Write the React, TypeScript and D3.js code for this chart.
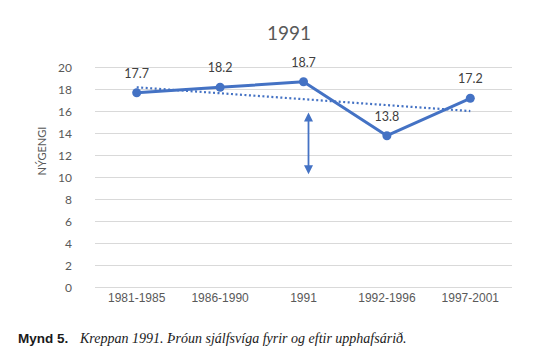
import React, { useEffect, useRef } from 'react';
import * as d3 from 'd3';

const categories = ['1981-1985', '1986-1990', '1991', '1992-1996', '1997-2001'];
const values = [17.7, 18.2, 18.7, 13.8, 17.2];
const yTicks = [0, 2, 4, 6, 8, 10, 12, 14, 16, 18, 20];
// double arrow marking the drop after 1991
const arrowCategory = '1991';
const arrowRange = [15.9, 10.3];

const blue = '#4472C4';

const App = () => {
    const chartRef = useRef<SVGSVGElement>(null);

    useEffect(() => {
        const svg = d3.select(chartRef.current);
        svg.selectAll('*').remove();

        const xScale = d3.scaleBand().domain(categories).range([95, 512]);
        const yScale = d3.scaleLinear().domain([0, 20]).range([287.5, 67.5]);
        const cx = (c: string) => (xScale(c) as number) + xScale.bandwidth() / 2;

        // title
        svg.append('text')
            .attr('x', 289)
            .attr('y', 40)
            .attr('text-anchor', 'middle')
            .attr('font-family', 'Lato, sans-serif')
            .attr('font-size', 19)
            .attr('fill', '#595959')
            .text('1991');

        // gridlines
        svg.append('g')
            .selectAll('line')
            .data(yTicks)
            .enter()
            .append('line')
            .attr('x1', 95)
            .attr('x2', 512)
            .attr('y1', d => yScale(d))
            .attr('y2', d => yScale(d))
            .attr('stroke', '#d9d9d9')
            .attr('stroke-width', 1);

        // y axis labels
        svg.append('g')
            .selectAll('text')
            .data(yTicks)
            .enter()
            .append('text')
            .attr('x', 72)
            .attr('y', d => yScale(d) + 4)
            .attr('text-anchor', 'end')
            .attr('font-family', 'Lato, sans-serif')
            .attr('font-size', 12)
            .attr('fill', '#595959')
            .text(d => d);

        svg.append('text')
            .attr('transform', 'translate(46,151) rotate(-90)')
            .attr('text-anchor', 'middle')
            .attr('font-family', 'Lato, sans-serif')
            .attr('font-size', 11)
            .attr('fill', '#595959')
            .text('NÝGENGI');

        // x axis labels
        svg.append('g')
            .selectAll('text')
            .data(categories)
            .enter()
            .append('text')
            .attr('x', d => cx(d))
            .attr('y', 302)
            .attr('text-anchor', 'middle')
            .attr('font-family', 'Liberation Sans, sans-serif')
            .attr('font-size', 12)
            .attr('fill', '#595959')
            .text(d => d);

        // linear trendline
        const xs = values.map((_, i) => i + 1);
        const mx = d3.mean(xs) as number;
        const my = d3.mean(values) as number;
        const slope = d3.sum(xs, (x, i) => (x - mx) * (values[i] - my)) / d3.sum(xs, x => (x - mx) ** 2);
        const trend = (i: number) => my + slope * (i + 1 - mx);
        svg.append('line')
            .attr('x1', cx(categories[0]))
            .attr('y1', yScale(trend(0)))
            .attr('x2', cx(categories[categories.length - 1]))
            .attr('y2', yScale(trend(categories.length - 1)))
            .attr('stroke', blue)
            .attr('stroke-width', 2.2)
            .attr('stroke-dasharray', '2,2.5');

        // main line
        const lineGenerator = d3.line<number>()
            .x((_, i) => cx(categories[i]))
            .y(d => yScale(d));
        svg.append('path')
            .datum(values)
            .attr('fill', 'none')
            .attr('stroke', blue)
            .attr('stroke-width', 3)
            .attr('stroke-linejoin', 'round')
            .attr('d', lineGenerator);

        svg.append('g')
            .selectAll('circle')
            .data(values)
            .enter()
            .append('circle')
            .attr('cx', (_, i) => cx(categories[i]))
            .attr('cy', d => yScale(d))
            .attr('r', 4.5)
            .attr('fill', blue);

        // data labels
        svg.append('g')
            .selectAll('text')
            .data(values)
            .enter()
            .append('text')
            .attr('x', (_, i) => cx(categories[i]))
            .attr('y', d => yScale(d) - 15)
            .attr('text-anchor', 'middle')
            .attr('font-family', 'Lato, sans-serif')
            .attr('font-size', 12.5)
            .attr('fill', '#404040')
            .text(d => d.toFixed(1));

        // double arrow
        const ax = cx(arrowCategory) + 5;
        const yTop = yScale(arrowRange[0]);
        const yBot = yScale(arrowRange[1]);
        svg.append('line')
            .attr('x1', ax)
            .attr('x2', ax)
            .attr('y1', yTop + 6)
            .attr('y2', yBot - 6)
            .attr('stroke', blue)
            .attr('stroke-width', 1.8);
        svg.append('path')
            .attr('d', `M${ax},${yTop} L${ax - 4.5},${yTop + 9} L${ax + 4.5},${yTop + 9} Z`)
            .attr('fill', blue);
        svg.append('path')
            .attr('d', `M${ax},${yBot} L${ax - 4.5},${yBot - 9} L${ax + 4.5},${yBot - 9} Z`)
            .attr('fill', blue);

        // caption
        const caption = svg.append('text')
            .attr('x', 18)
            .attr('y', 343)
            .attr('font-size', 13.5);
        caption.append('tspan')
            .attr('font-family', 'Liberation Sans, Arial, sans-serif')
            .attr('font-weight', 'bold')
            .attr('fill', '#1a1a1a')
            .text('Mynd 5.');
        caption.append('tspan')
            .attr('x', 80)
            .attr('font-family', 'Liberation Serif, serif')
            .attr('font-style', 'italic')
            .attr('font-size', 14)
            .attr('fill', '#1a1a1a')
            .text('Kreppan 1991. Þróun sjálfsvíga fyrir og eftir upphafsárið.');
    }, []);

    return (
        <div style={{ position: 'absolute', top: 0, left: 0 }}>
            <svg ref={chartRef} width={550} height={362} style={{ display: 'block', background: '#fff' }} />
        </div>
    );
};

export default App;
